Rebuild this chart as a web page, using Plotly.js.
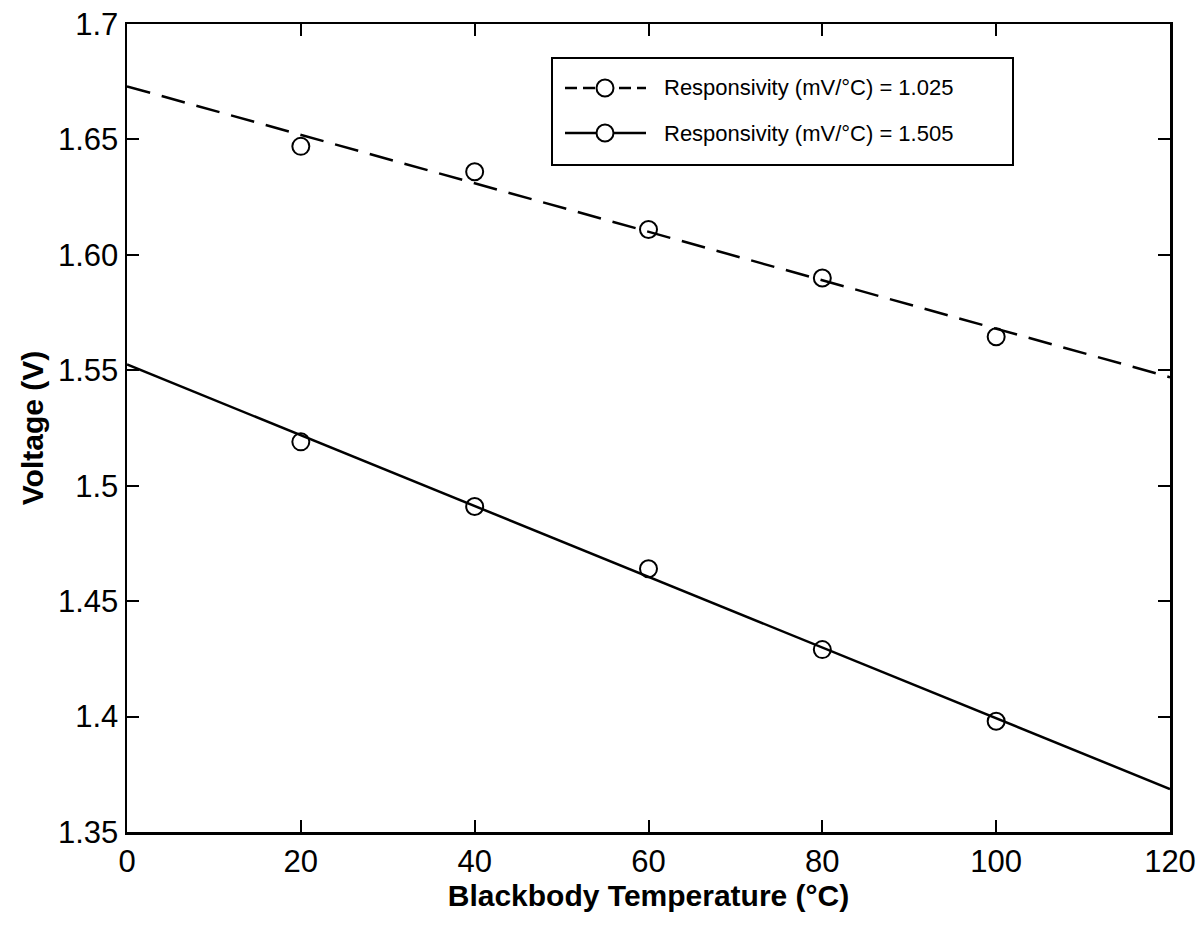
<!DOCTYPE html>
<html>
<head>
<meta charset="utf-8">
<script src="https://cdn.plot.ly/plotly-3.0.1.min.js"></script>
<style>html,body{margin:0;padding:0;background:#fff;}#chart{width:1203px;height:939px;}</style>
</head>
<body>
<div id="chart"></div>
<script>
// Data
const temps = [20, 40, 60, 80, 100];
const voltageHigh = [1.647, 1.636, 1.611, 1.590, 1.5645];   // responsivity 1.025
const voltageLow  = [1.519, 1.491, 1.464, 1.429, 1.398];    // responsivity 1.505
const fitX = [0, 120];
const fitHigh = [1.673, 1.547];
const fitLow = [1.5525, 1.3686];
const nameHigh = 'Responsivity (mV/°C) = 1.025';
const nameLow = 'Responsivity (mV/°C) = 1.505';
const xTicks = [0, 20, 40, 60, 80, 100, 120];
const yTickVals = [1.35, 1.4, 1.45, 1.5, 1.55, 1.6, 1.65, 1.7];
const yTickText = ['1.35', '1.4', '1.45', '1.5', '1.55', '1.60', '1.65', '1.7'];

const FONT = 'Liberation Sans, Arial, Helvetica, sans-serif';
const markerStyle = {symbol: 'circle-open', size: 17, color: '#000', line: {width: 2, color: '#000'}};
const dashStyle = '24px,12px';

// plot-area geometry (pixels)
const M = {l: 127, r: 33, t: 24, b: 107};
const W = 1203, H = 939;
const PW = W - M.l - M.r, PH = H - M.t - M.b;
const px = p => (p - M.l) / PW;
const py = p => (H - M.b - p) / PH;

const traces = [
  {x: fitX, y: fitHigh, mode: 'lines', line: {color: '#000', width: 2.5, dash: dashStyle}, showlegend: false, hoverinfo: 'skip'},
  {x: temps, y: voltageHigh, mode: 'markers', marker: markerStyle, showlegend: false},
  {x: fitX, y: fitLow, mode: 'lines', line: {color: '#000', width: 2.5}, showlegend: false, hoverinfo: 'skip'},
  {x: temps, y: voltageLow, mode: 'markers', marker: markerStyle, showlegend: false}
];

// custom legend (box, sample lines, circles, labels)
const legRows = [{name: nameHigh, dash: '12px,6px', y: 88}, {name: nameLow, dash: 'solid', y: 133}];
const shapes = [
  {type: 'rect', xref: 'paper', yref: 'paper', x0: px(552), x1: px(1013), y0: py(165), y1: py(58),
   line: {color: '#000', width: 2}, fillcolor: '#fff', layer: 'above'}
];
const annotations = [];
legRows.forEach(r => {
  shapes.push({type: 'line', xref: 'paper', yref: 'paper', x0: px(565), x1: px(646), y0: py(r.y), y1: py(r.y),
    line: {color: '#000', width: 2.5, dash: r.dash}, layer: 'above'});
  shapes.push({type: 'circle', xref: 'paper', yref: 'paper', x0: px(596.5), x1: px(613.5), y0: py(r.y + 8.5), y1: py(r.y - 8.5),
    line: {color: '#000', width: 2}, fillcolor: '#fff', layer: 'above'});
  annotations.push({xref: 'paper', yref: 'paper', x: px(662), y: py(r.y), xanchor: 'left', yanchor: 'middle',
    text: r.name, showarrow: false, font: {family: FONT, size: 22, color: '#000'}});
});

const axisCommon = {
  showgrid: false, zeroline: false, showline: true, linecolor: '#000', linewidth: 2.5,
  mirror: 'ticks', ticks: 'inside', ticklen: 12, tickwidth: 2, tickcolor: '#000',
  tickfont: {family: FONT, size: 31, color: '#000'}
};

const layout = {
  width: W, height: H,
  margin: M,
  paper_bgcolor: '#fff', plot_bgcolor: '#fff',
  font: {family: FONT, color: '#000'},
  xaxis: Object.assign({}, axisCommon, {
    range: [0, 120], tickvals: xTicks, ticktext: xTicks.map(String),
    title: {text: 'Blackbody Temperature (°C)', font: {family: FONT, size: 30, weight: 'bold', color: '#000'}, standoff: 0}
  }),
  yaxis: Object.assign({}, axisCommon, {
    range: [1.35, 1.7], tickvals: yTickVals, ticktext: yTickText,
    title: {text: 'Voltage (V)', font: {family: FONT, size: 30, weight: 'bold', color: '#000'}, standoff: 6}
  }),
  shapes: shapes,
  annotations: annotations,
  showlegend: false
};

Plotly.newPlot('chart', traces, layout, {displayModeBar: false, staticPlot: true});
</script>
</body>
</html>
